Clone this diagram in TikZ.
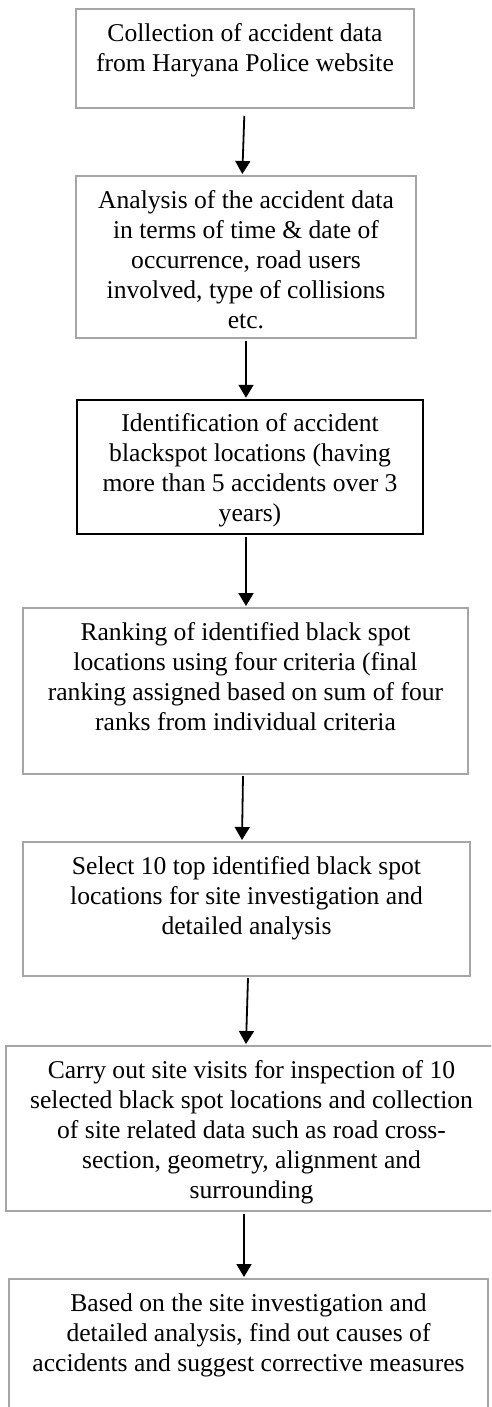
\documentclass[tikz,border=0pt]{standalone}
\usepackage{fontspec}
\setmainfont{Liberation Serif}
\usetikzlibrary{calc,positioning,arrows.meta}
\definecolor{boxgray}{RGB}{166,166,166}
\begin{document}
\begin{tikzpicture}[x=1pt, y=-1pt]
\tikzstyle{blk}=[rectangle, draw=boxgray, line width=2pt, inner sep=0pt]
\tikzstyle{txt}=[align=center, inner sep=0pt, font=\fontsize{25.6}{30}\selectfont]
\tikzstyle{arr}=[-{Triangle[width=15pt,length=13pt]}, line width=1.8pt]
\clip (0,0) rectangle (491,1407);
\useasboundingbox (0,0) rectangle (491,1407);
% boxes
\node[blk, minimum width=338, minimum height=99] (collect) at (245,58.5) {};
\node[blk, minimum width=340, minimum height=162] (analyse) at (246,257) {};
\node[blk, draw=black, line width=2.5pt, minimum width=346, minimum height=134] (identify) at (250,467) {};
\node[blk, minimum width=445, minimum height=166] (rank) at (245.5,691) {};
\node[blk, minimum width=447, minimum height=134] (select) at (246.5,909) {};
\node[blk, minimum width=491, minimum height=165] (visit) at (251.5,1128.5) {};
\node[blk, minimum width=479, minimum height=141] (remedy) at (248.5,1349.5) {};
% texts
\node[txt, below=12pt of collect.north] (tcollect) {\strut Collection of accident data\\from Haryana Police website};
\node[txt, below=12pt of analyse.north] (tanalyse) {\strut Analysis of the accident data\\in terms of time \& date of\\occurrence, road users\\involved, type of collisions\\etc.};
\node[txt, below=12pt of identify.north] (tidentify) {\strut Identification of accident\\blackspot locations (having\\more than 5 accidents over 3\\years)};
\node[txt, below=12pt of rank.north] (trank) {\strut Ranking of identified black spot\\locations using four criteria (final\\ranking assigned based on sum of four\\ranks from individual criteria};
\node[txt, below=12pt of select.north] (tselect) {\strut Select 10 top identified black spot\\locations for site investigation and\\detailed analysis};
\node[txt, below=12pt of visit.north] (tvisit) {\strut Carry out site visits for inspection of 10\\selected black spot locations and collection\\of site related data such as road cross-\\section, geometry, alignment and\\surrounding};
\node[txt, below=12pt of remedy.north] (tremedy) {\strut Based on the site investigation and\\detailed analysis, find out causes of\\accidents and suggest corrective measures};
% arrows
\foreach \a/\b/\sx/\sy/\ex in {collect/analyse/-0.7/7/-3.7, analyse/identify/0/2/-4, identify/rank/-4/2/0.5, rank/select/-2.5/1/-4.5, select/visit/1.5/1/-5.5, visit/remedy/-7.5/2/-4.5}{\draw[arr] ($(\a.south)+(\sx,\sy)$) -- ($(\b.north)+(\ex,-1)$);}
\end{tikzpicture}
\end{document}
